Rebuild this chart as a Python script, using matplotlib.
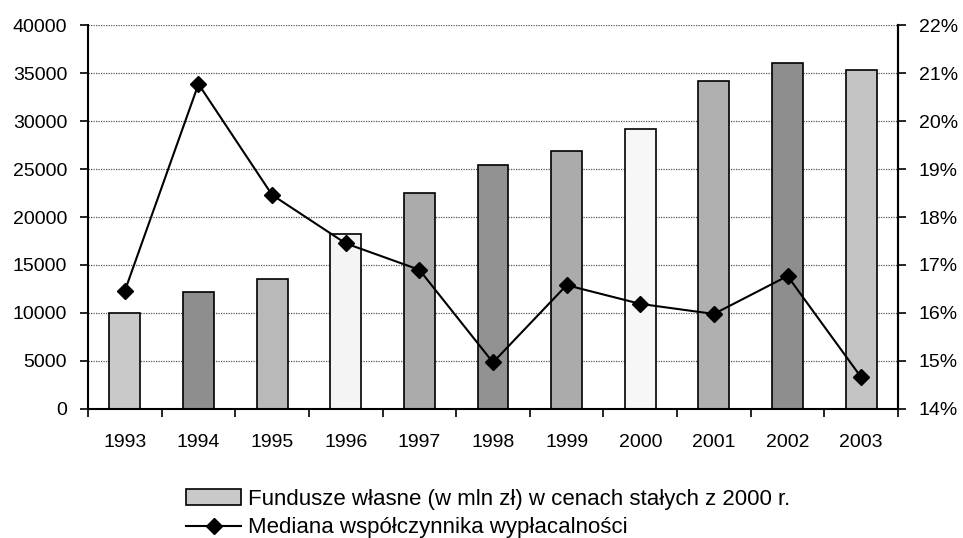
import matplotlib.pyplot as plt
from matplotlib.ticker import FuncFormatter

plt.rcParams['font.family'] = ['Liberation Sans', 'DejaVu Sans']

years = ['1993', '1994', '1995', '1996', '1997', '1998', '1999', '2000', '2001', '2002', '2003']
funds = [10000, 12150, 13500, 18250, 22550, 25450, 26900, 29150, 34200, 36000, 35300]
solvency = [16.46, 20.77, 18.46, 17.45, 16.90, 14.97, 16.58, 16.19, 15.98, 16.77, 14.66]
bar_colors = ['#c9c9c9', '#8e8e8e', '#b9b9b9', '#f4f4f4', '#ababab', '#929292',
              '#ababab', '#f7f7f7', '#b0b0b0', '#8e8e8e', '#c4c4c4']

fig = plt.figure(figsize=(9.63, 5.38), dpi=100)
ax = fig.add_axes([0.0914, 0.2398, 0.8411, 0.7137])
x = range(len(years))

ax.set_axisbelow(True)
ax.yaxis.grid(True, linestyle=(0, (1, 1)), color='#555555', linewidth=0.9)
bars = ax.bar(x, funds, width=0.42, color=bar_colors, edgecolor='black', linewidth=1.2,
              label='Fundusze własne (w mln zł) w cenach stałych z 2000 r.')
ax.set_xlim(-0.5, len(years) - 0.5)
ax.set_ylim(0, 40000)
ax.set_yticks(range(0, 40001, 5000))
ax.set_xticks(list(x))
ax.set_xticklabels(years)
ax.set_xticks([i - 0.5 for i in range(len(years) + 1)], minor=True)
ax.tick_params(axis='x', which='major', length=0, pad=18, labelsize=14)
ax.tick_params(axis='x', which='minor', length=6, width=1.2, direction='out')
ax.tick_params(axis='y', length=6, width=1.2, direction='out', labelsize=14, pad=9)
ax.spines['top'].set_visible(False)
for s in ['left', 'bottom', 'right']:
    ax.spines[s].set_linewidth(1.5)

ax2 = ax.twinx()
line, = ax2.plot(x, solvency, color='black', linewidth=1.5, marker='D', markersize=8,
                 label='Mediana współczynnika wypłacalności')
ax2.set_ylim(14, 22)
ax2.set_yticks(range(14, 23))
ax2.yaxis.set_major_formatter(FuncFormatter(lambda v, p: f'{v:.0f}%'))
ax2.tick_params(axis='y', length=6, width=1.2, direction='out', labelsize=14, pad=9)
for s in ['top', 'left', 'bottom']:
    ax2.spines[s].set_visible(False)
ax2.spines['right'].set_linewidth(1.5)

fig.legend([bars, line], [bars.get_label(), line.get_label()],
           loc='upper left', bbox_to_anchor=(0.193, 0.092), frameon=False,
           fontsize=16, handlelength=2.5, handletextpad=0.3, labelspacing=0.35,
           borderaxespad=0, borderpad=0)

fig.savefig('out.png', dpi=100)
